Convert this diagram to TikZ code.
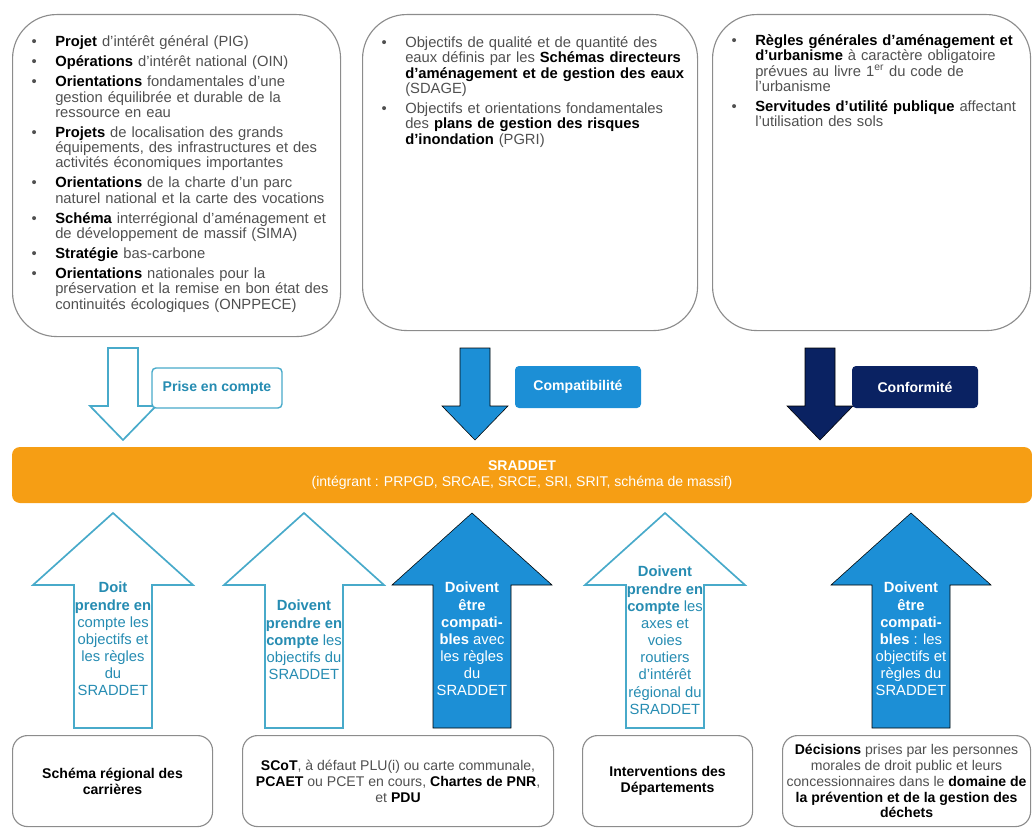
\documentclass[tikz,border=0pt]{standalone}
\usepackage{fontspec}
\setmainfont{Liberation Sans}
\usetikzlibrary{positioning}

\definecolor{orangebande}{RGB}{246,158,20}
\definecolor{bleucompat}{RGB}{28,143,214}
\definecolor{bleumarine}{RGB}{10,34,98}
\definecolor{turquoise}{RGB}{72,170,202}
\definecolor{turqtexte}{RGB}{38,140,178}
\definecolor{gristexte}{RGB}{80,80,80}
\definecolor{griscadre}{RGB}{140,140,140}

% liste a puces des cadres du haut
\newenvironment{puces}{\begin{list}{\textbullet}{\setlength\leftmargin{0.675cm}%
  \setlength\labelwidth{0.2cm}\setlength\labelsep{0.465cm}\setlength\itemsep{3.3pt}%
  \setlength\parsep{0pt}\setlength\topsep{0pt}\setlength\partopsep{0pt}}}{\end{list}}
\newcommand{\fl}[1]{\textbf{\color{black}#1}}

% grandes fleches (x du centre)
\newcommand{\flechebas}[2]{%
  \draw[#1] (#2-0.375,-8.7) -- (#2+0.375,-8.7) -- (#2+0.375,-10.15)
    -- (#2+0.825,-10.15) -- (#2,-11.0) -- (#2-0.825,-10.15)
    -- (#2-0.375,-10.15) -- cycle;}
\newcommand{\flechehaut}[2]{%
  \draw[#1] (#2-0.975,-18.2) -- (#2+0.975,-18.2) -- (#2+0.975,-14.625)
    -- (#2+2,-14.625) -- (#2,-12.825) -- (#2-2,-14.625)
    -- (#2-0.975,-14.625) -- cycle;}

\begin{document}
\begin{tikzpicture}
    [cadre/.style={draw=griscadre,line width=0.8pt,rounded corners=1.1cm,
       inner sep=0pt,anchor=north west},
     liste/.style={inner sep=0pt,anchor=north west,align=left,text=gristexte,
       font=\fontsize{10.5}{10.9}\selectfont},
     boite/.style={draw=griscadre,line width=0.8pt,rounded corners=0.375cm,
       anchor=north west,minimum height=2.275cm,align=center,text=gristexte,
       font=\fontsize{10}{11.3}\selectfont},
     creuse/.style={draw=turquoise,line width=1.2pt,fill=white},
     pleine/.style={fill=bleucompat},
     marine/.style={fill=bleumarine},
     etiquette/.style={rounded corners=0.1cm,minimum width=3.15cm,
       minimum height=1.05cm,text=white,font=\fontsize{10}{12}\selectfont\bfseries},
     dansfleche/.style={inner sep=0pt,anchor=north,align=center,
       font=\fontsize{10.5}{12.2}\selectfont}]
    \useasboundingbox (0,0) rectangle (25.8,-20.7);

    % cadres du haut
    \node (haut1) [cadre,minimum width=8.2cm,minimum height=8.05cm] at (0.3,-0.35) {};
    \node (haut2) [cadre,minimum width=8.375cm,minimum height=7.9cm] at (9.05,-0.35) {};
    \node (haut3) [cadre,minimum width=7.95cm,minimum height=7.9cm] at (17.8,-0.35) {};
    \node (liste1) [liste,text width=8.3cm] at (0.7,-0.78) {\begin{puces}
      \item \fl{Projet} d'intérêt général (PIG)
      \item \fl{Opérations} d'intérêt national (OIN)
      \item \fl{Orientations} fondamentales d'une\\gestion équilibrée et durable de la\\ressource en eau
      \item \fl{Projets} de localisation des grands\\équipements, des infrastructures et des\\activités économiques importantes
      \item \fl{Orientations} de la charte d'un parc\\naturel national et la carte des vocations
      \item \fl{Schéma} interrégional d'aménagement et\\de développement de massif (SIMA)
      \item \fl{Stratégie} bas-carbone
      \item \fl{Orientations} nationales pour la\\préservation et la remise en bon état des\\continuités écologiques (ONPPECE)
    \end{puces}};
    \node (liste2) [liste,text width=8.3cm] at (9.45,-0.8) {\begin{puces}
      \item Objectifs de qualité et de quantité des\\eaux définis par les \fl{Schémas directeurs}\\\fl{d'aménagement et de gestion des eaux}\\(SDAGE)
      \item Objectifs et orientations fondamentales\\des \fl{plans de gestion des risques}\\\fl{d'inondation} (PGRI)
    \end{puces}};
    \node (liste3) [liste,text width=8cm] at (18.2,-0.75) {\begin{puces}
      \item \fl{Règles générales d'aménagement et}\\\fl{d'urbanisme} à caractère obligatoire\\prévues au livre 1\textsuperscript{er} du code de\\l'urbanisme
      \item \fl{Servitudes d'utilité publique} affectant\\l'utilisation des sols
    \end{puces}};

    % fleches vers le SRADDET
    \flechebas{creuse}{3.075}
    \flechebas{pleine}{11.875}
    \flechebas{marine}{20.5}
    \node (prise) [etiquette,draw=turquoise,line width=1pt,fill=white,text=turqtexte,
      minimum width=3.25cm,minimum height=1cm] at (5.425,-9.7) {Prise en compte};
    \node (compat) [etiquette,fill=bleucompat] at (14.45,-9.675) {Compatibilité};
    \node (conform) [etiquette,fill=bleumarine] at (22.875,-9.675) {Conformité};

    % bandeau
    \node (sraddet) [fill=orangebande,rounded corners=0.2cm,minimum width=25.5cm,
      minimum height=1.4cm,text=white,align=center,
      font=\fontsize{10}{11.4}\selectfont] at (13.05,-11.875)
      {\textbf{SRADDET}\\(intégrant : PRPGD, SRCAE, SRCE, SRI, SRIT, schéma de massif)};

    % fleches depuis les documents
    \flechehaut{creuse}{2.825}
    \flechehaut{creuse}{7.6}
    \flechehaut{pleine}{11.8}
    \flechehaut{creuse}{16.625}
    \flechehaut{pleine}{22.775}
    \node (f1) [dansfleche,text=turqtexte] at (2.825,-14.55)
      {\textbf{Doit}\\\textbf{prendre en}\\compte les\\objectifs et\\les règles\\du\\SRADDET};
    \node (f2) [dansfleche,text=turqtexte] at (7.6,-15.0)
      {\textbf{Doivent}\\\textbf{prendre en}\\\textbf{compte} les\\objectifs du\\SRADDET};
    \node (f3) [dansfleche,text=white] at (11.8,-14.55)
      {\textbf{Doivent}\\\textbf{être}\\\textbf{compati-}\\\textbf{bles} avec\\les règles\\du\\SRADDET};
    \node (f4) [dansfleche,text=turqtexte] at (16.625,-14.15)
      {\textbf{Doivent}\\\textbf{prendre en}\\\textbf{compte} les\\axes et\\voies\\routiers\\d'intérêt\\régional du\\SRADDET};
    \node (f5) [dansfleche,text=white] at (22.775,-14.55)
      {\textbf{Doivent}\\\textbf{être}\\\textbf{compati-}\\\textbf{bles} : les\\objectifs et\\règles du\\SRADDET};

    % cadres du bas
    \node (bas1) [boite,minimum width=5cm] at (0.3,-18.375)
      {\fl{Schéma régional des}\\\fl{carrières}};
    \node (bas2) [boite,minimum width=7.775cm] at (6.05,-18.375)
      {\fl{SCoT}, à défaut PLU(i) ou carte communale,\\\fl{PCAET} ou PCET en cours, \fl{Chartes de PNR},\\et \fl{PDU}};
    \node (bas3) [boite,minimum width=4.25cm] at (14.55,-18.375)
      {\fl{Interventions des}\\\fl{Départements}};
    \node (bas4) [boite,minimum width=6.2cm,inner sep=1pt] at (19.55,-18.375)
      {\fl{Décisions} prises par les personnes\\morales de droit public et leurs\\concessionnaires dans le \fl{domaine de}\\\fl{la prévention et de la gestion des}\\\fl{déchets}};
\end{tikzpicture}
\end{document}
